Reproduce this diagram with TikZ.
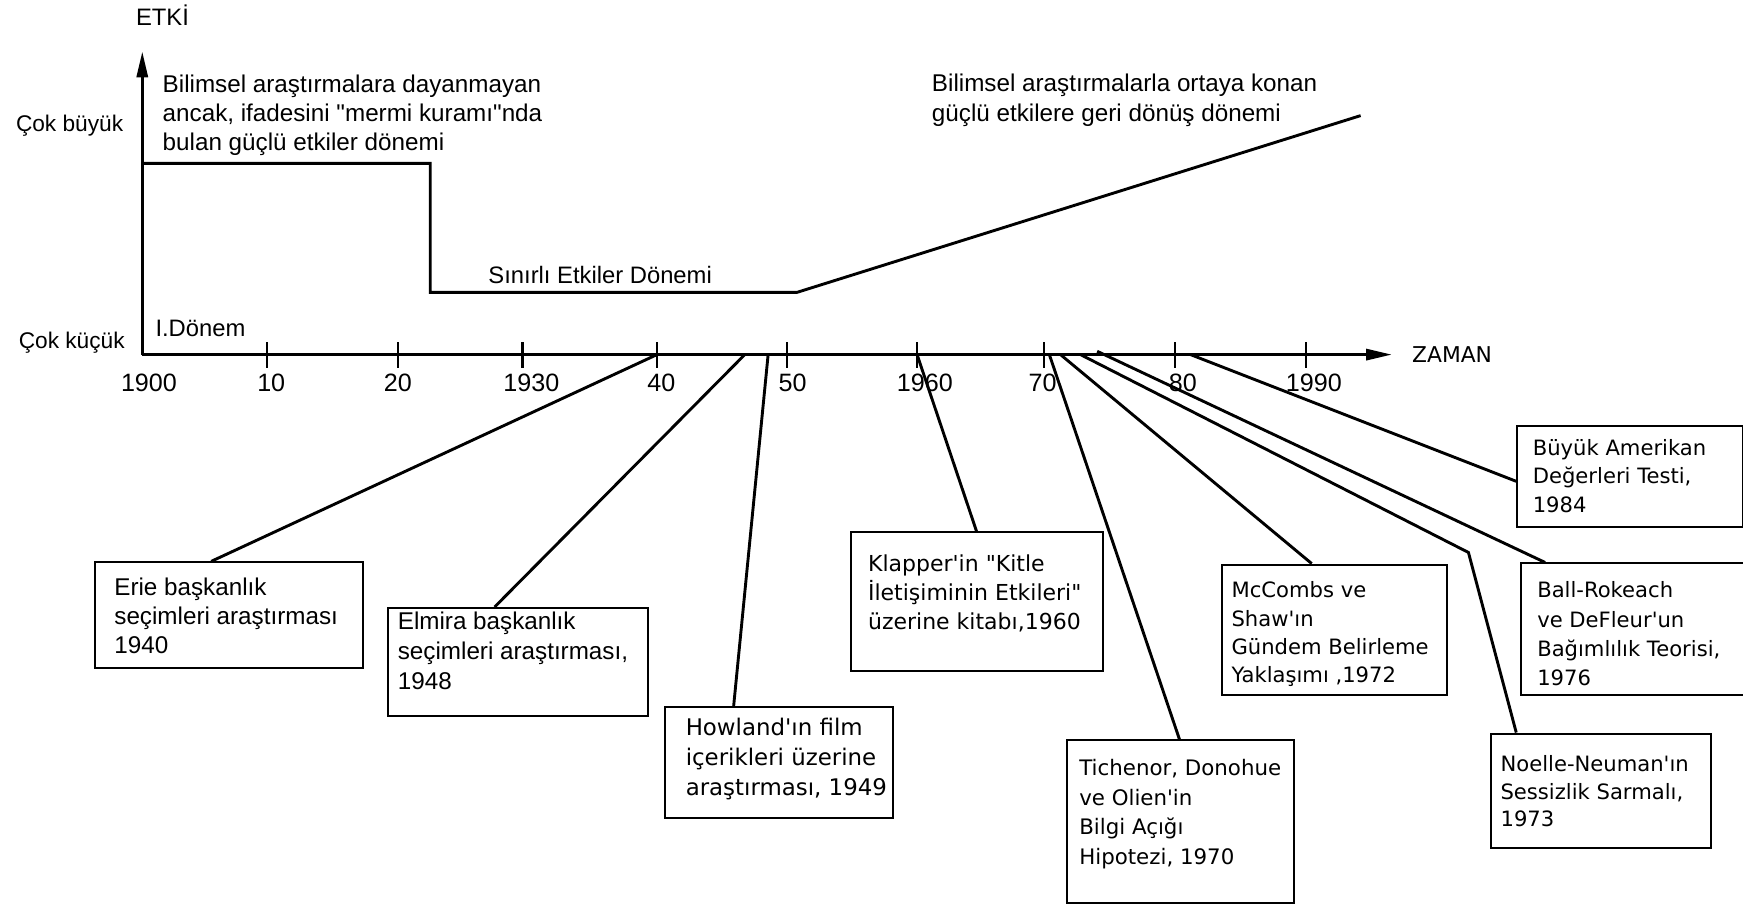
\documentclass[tikz,border=0pt]{standalone}
\usepackage{fontspec}
\setmainfont{Liberation Sans}[Ligatures=TeXOff]
\newfontfamily\genfont{DejaVu Sans}[Ligatures=TeXOff]
\usetikzlibrary{arrows.meta,calc}

% one drawing unit
\newdimen\unitpx \unitpx=0.5pt

% fonts
\newcommand\lfont{\fontsize{10.7}{13}\selectfont}
\newcommand\sfont{\fontsize{10.2}{12}\selectfont}
\newcommand\lfontb[1]{\fontsize{10.9}{#1}\selectfont}
\newcommand\axfont{\fontsize{11.3}{13}\selectfont}
\newcommand\gfont[2][9.5]{\genfont\fontsize{#1}{#2}\selectfont}

% framed text block: font, width, height, left pad, first baseline, lines
\newcommand\bxt[6]{\parbox[b][#3\unitpx][t]{#2\unitpx}{#1\leftskip=#4\unitpx\relax
  \vspace*{\dimexpr#5\unitpx-\ht\strutbox\relax}\strut#6\par}}
% free text block, baseline on its first line: font, width, lines
\newcommand\blk[3]{\parbox[t]{#2\unitpx}{#1\strut#3}}

\begin{document}
\begin{tikzpicture}[x=0.5pt,y=-0.5pt,
  axisline/.style={line width=1.2pt},
  tickline/.style={line width=1.1pt},
  curveline/.style={line width=1.3pt},
  link/.style={line width=1.3pt},
  box/.style={draw, line width=0.9pt, inner sep=0pt, anchor=north west},
  lbl/.style={inner sep=0pt, anchor=base west},
  ticklbl/.style={inner sep=0pt, anchor=base, font=\axfont},
  tip/.style={-{Triangle[length=11.5pt,width=5pt]}}]
\useasboundingbox (0,0) rectangle (1568,813);

% ---- axes ----
\coordinate (O) at (128,319);
\coordinate (ytop) at (128,46.5);
\coordinate (xend) at (1252,319);
\draw[axisline, tip] (O) -- (ytop);
\draw[axisline, tip] (O) -- (xend);

% ticks
\foreach \x/\n in {240/t10, 358/t20, 470/t30, 591/t40, 708/t50,
                   825/t60, 939/t70, 1057/t80, 1175/t90}{
  \coordinate (\n) at (\x,319);
  \draw[tickline] (\x,308) -- (\x,331);
}

% tick labels
\foreach \x/\t/\n in {134/1900/l00, 244/10/l10, 358/20/l20, 478/1930/l30,
                      595/40/l40, 713/50/l50, 832/1960/l60, 938/70/l70,
                      1064/80/l80, 1182/1990/l90}{
  \node[ticklbl] (\n) at (\x,352.5) {\t};
}

% ---- effect curve ----
\coordinate (c0) at (128,147);
\coordinate (c1) at (387,147);
\coordinate (c2) at (387,263);
\coordinate (c3) at (717,263);
\coordinate (c4) at (1224,104);
\draw[curveline] (c0) -- (c1) -- (c2) -- (c3) -- (c4);

% ---- axis and period labels ----
\node[lbl] (etki) at (122,22.5) {\lfont ETKİ};
\node[lbl] (cokbuyuk) at (14,118.5) {\sfont Çok büyük};
\node[lbl] (cokkucuk) at (16.5,313.5) {\sfont Çok küçük};
\node[lbl] (donem1) at (139.5,303) {\lfont I.Dönem};
\node[lbl] (guclu1) at (146,83) {\blk{\lfontb{13}}{420}{Bilimsel araştırmalara dayanmayan\\ancak, ifadesini "mermi kuramı"nda\\bulan güçlü etkiler dönemi}};
\node[lbl] (sinirli) at (439,255) {\lfont Sınırlı Etkiler Dönemi};
\node[lbl] (guclu2) at (838,82.5) {\blk{\lfontb{13.5}}{420}{Bilimsel araştırmalarla ortaya konan\\güçlü etkilere geri dönüş dönemi}};
\node[lbl] (zaman) at (1270,326) {\genfont\fontsize{9.8}{12}\selectfont ZAMAN};

% ---- study boxes ----
\node[box] (erie) at (85,505) {\bxt{\lfontb{12.9}}{241}{95}{17}{30}{Erie başkanlık\\seçimleri araştırması\\1940}};
\node[box] (elmira) at (348,546) {\bxt{\lfontb{13.5}}{234}{97}{9}{19.5}{Elmira başkanlık\\seçimleri araştırması,\\1948}};
\node[box] (howland) at (597,635) {\bxt{\gfont[10.3]{13.5}}{205}{100}{19}{26}{Howland'ın film\\içerikleri üzerine\\araştırması, 1949}};
\node[box] (klapper) at (765,478) {\bxt{\gfont[9.9]{13}}{226}{125}{15}{35}{Klapper'in "Kitle\\İletişiminin Etkileri"\\üzerine kitabı,1960}};
\node[box] (tichenor) at (959,665) {\bxt{\gfont[9.6]{13.25}}{204}{146}{11}{32}{Tichenor, Donohue\\ve Olien'in\\Bilgi Açığı\\Hipotezi, 1970}};
\node[box] (mccombs) at (1098,507) {\bxt{\gfont{12.75}}{203}{117}{9}{30}{McCombs ve\\Shaw'ın\\Gündem Belirleme\\Yaklaşımı ,1972}};
\node[box] (noelle) at (1340,659) {\bxt{\gfont{12.5}}{198}{103}{9}{34}{Noelle-Neuman'ın\\Sessizlik Sarmalı,\\1973}};
\node[box] (ball) at (1367,506) {\bxt{\gfont{13.1}}{215}{118}{15}{31}{Ball-Rokeach\\ve DeFleur'un\\Bağımlılık Teorisi,\\1976}};
\node[box] (buyuk) at (1364,382) {\bxt{\gfont{12.75}}{203}{91}{14}{27}{Büyük Amerikan\\Değerleri Testi,\\1984}};

% ---- connectors from the time axis ----
\coordinate (aelm) at (670,319);
\coordinate (ahow) at (691,319);
\coordinate (atich) at (944,319);
\coordinate (amcc) at (954,319);
\coordinate (anoe) at (972,319);
\coordinate (bend) at (1321,497);
\coordinate (aball) at (987,316);
\coordinate (abuy) at (1071,319);

\draw[link] (t40) -- ($(erie.north west)+(105,0)$);
\draw[link] (aelm) -- ($(elmira.north west)+(97,0)$);
\draw[link] (ahow) -- ($(howland.north west)+(63,0)$);
\draw[link] (t60) -- ($(klapper.north west)+(113.5,0)$);
\draw[link] (atich) -- ($(tichenor.north west)+(102,0)$);
\draw[link] (amcc) -- ($(mccombs.north west)+(82,0)$);
\draw[link] (anoe) -- (bend) -- ($(noelle.north west)+(24,0)$);
\draw[link] (aball) -- ($(ball.north west)+(23,0)$);
\draw[link] (abuy) -- ($(buyuk.north west)+(0,51)$);
\end{tikzpicture}
\end{document}
